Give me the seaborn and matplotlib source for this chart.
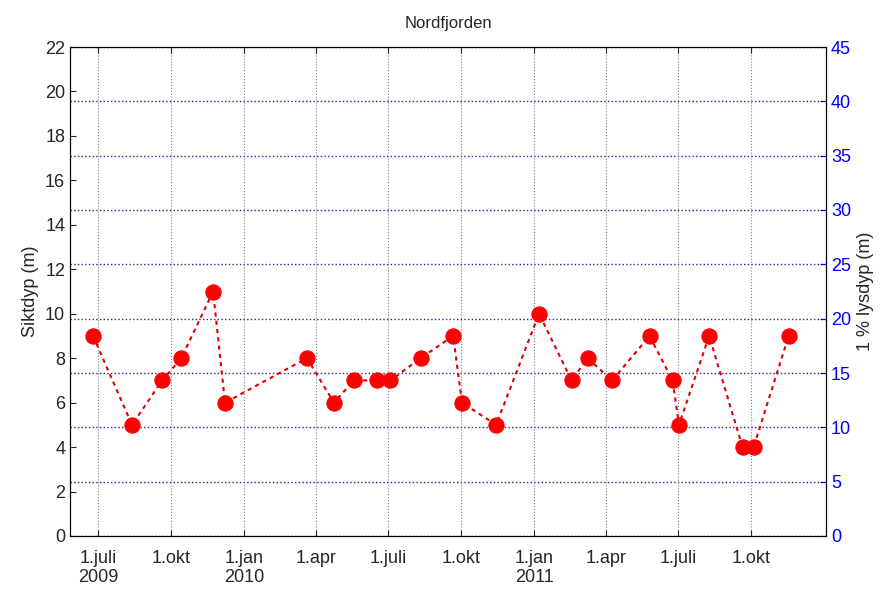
import matplotlib
matplotlib.use("Agg")
import matplotlib.pyplot as plt
import seaborn as sns
import pandas as pd

sns.set_style("white")
plt.rcParams['font.family'] = ['Liberation Sans', 'DejaVu Sans']

dates = ["2009-06-25","2009-08-13","2009-09-20","2009-10-14","2009-11-23","2009-12-08",
         "2010-03-21","2010-04-24","2010-05-19","2010-06-17","2010-07-04","2010-08-11",
         "2010-09-21","2010-10-02","2010-11-14","2011-01-07","2011-02-17","2011-03-09",
         "2011-04-09","2011-05-26","2011-06-24","2011-07-02","2011-08-09","2011-09-20",
         "2011-10-04","2011-11-17"]
siktdyp = [9,5,7,8,11,6,8,6,7,7,7,8,9,6,5,10,7,8,7,9,7,5,9,4,4,9]
tick_dates = ["2009-07-01","2009-10-01","2010-01-01","2010-04-01","2010-07-01","2010-10-01",
              "2011-01-01","2011-04-01","2011-07-01","2011-10-01"]
tick_labels = ["1.juli\n2009","1.okt","1.jan\n2010","1.apr","1.juli","1.okt",
               "1.jan\n2011","1.apr","1.juli","1.okt"]

df = pd.DataFrame({"dato": pd.to_datetime(dates), "sikt": siktdyp})

fig = plt.figure(figsize=(8.92, 5.91), dpi=100)
ax = fig.add_axes([70/892, 55/591, 756/892, 489/591])
sns.lineplot(data=df, x="dato", y="sikt", ax=ax, color="#e00000", linestyle=(0,(2,2)),
             linewidth=1.5, marker="o", markersize=11, markeredgecolor="#ff0000",
             markerfacecolor="#ff0000")
ax.set_xlim(pd.Timestamp("2009-05-27"), pd.Timestamp("2012-01-03"))
ax.set_ylim(0, 22)
ax.set_yticks(range(0, 23, 2))
ax.set_xticks(pd.to_datetime(tick_dates))
ax.set_xticklabels(tick_labels, ha="center")
ax.grid(axis="x", color="gray", linestyle=":", linewidth=0.8)
ax.set_xlabel("")
ax.set_ylabel("Siktdyp (m)", fontsize=13)
ax.set_title("Nordfjorden", fontsize=12, pad=14)
ax.tick_params(axis="both", labelsize=13, direction="in", length=4, left=True, bottom=True, top=True)
ax.tick_params(axis="x", pad=10)
for s in ax.spines.values():
    s.set_color("black")

ax2 = ax.twinx()
ax2.set_ylim(0, 45)
ax2.set_yticks(range(0, 46, 5))
ax2.tick_params(axis="y", colors="blue", labelsize=13, direction="in", length=4, right=True)
ax2.grid(axis="y", color="#2020a0", linestyle=":", linewidth=1)
ax2.set_ylabel("1 % lysdyp (m)", fontsize=13)
ax2.spines["right"].set_color("blue")
ax.set_zorder(ax2.get_zorder() + 1)
ax.patch.set_visible(False)

fig.savefig("out.png", dpi=100)
